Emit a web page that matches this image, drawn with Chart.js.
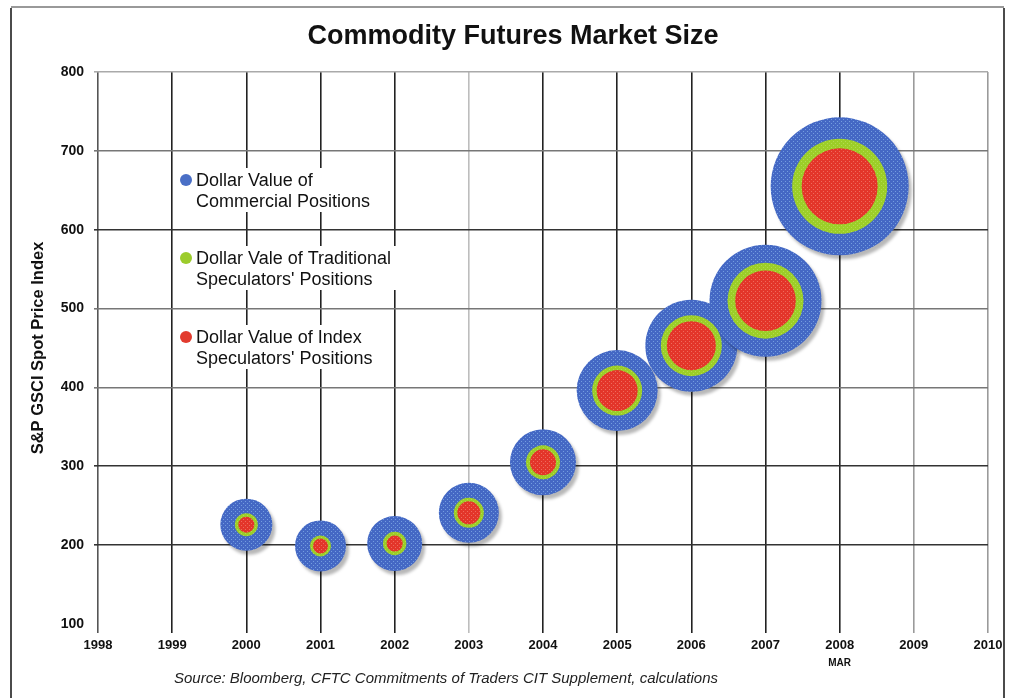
<!DOCTYPE html>
<html>
<head>
<meta charset="utf-8">
<title>Commodity Futures Market Size</title>
<script src="https://cdn.jsdelivr.net/npm/chart.js@4.4.1/dist/chart.umd.min.js"></script>
<style>
  html, body { margin: 0; padding: 0; background: #fff; }
  #wrap { width: 1012px; height: 698px; position: relative; }
</style>
</head>
<body>
<div id="wrap"><canvas id="chart" width="1012" height="698"></canvas></div>
<script>
// -------- DATA --------
const years = [2000, 2001, 2002, 2003, 2004, 2005, 2006, 2007, 2008];
const gsciIndex = [226, 199, 202, 241, 305, 396, 453, 510, 655];
// bubble radii (relative dollar value of positions)
const commercialSize = [26, 25.5, 27.5, 30, 33, 40.5, 46, 56, 69];
const traditionalSize = [11.5, 10.5, 11.7, 15, 17, 25, 30.5, 38, 47.5];
const indexSize = [8, 7.5, 8, 11.5, 13, 20.5, 24.5, 30.3, 38];

const xTicks = [1998, 1999, 2000, 2001, 2002, 2003, 2004, 2005, 2006, 2007, 2008, 2009, 2010];
const yTicks = [100, 200, 300, 400, 500, 600, 700, 800];

const legendItems = [
    { color: '#4a6fc6', lines: ['Dollar Value of', 'Commercial Positions'], y: 180 },
    { color: '#9ccc2c', lines: ['Dollar Vale of Traditional', "Speculators' Positions"], y: 258 },
    { color: '#e23b2e', lines: ['Dollar Value of Index', "Speculators' Positions"], y: 337 }
];

const FONT = '"Liberation Sans", Arial, sans-serif';

// halftone-ish pattern for the bubbles
function makePattern(base, dot) {
    const c = document.createElement('canvas');
    c.width = 4; c.height = 4;
    const g = c.getContext('2d');
    g.fillStyle = base;
    g.fillRect(0, 0, 4, 4);
    g.fillStyle = dot;
    g.fillRect(1, 1, 1, 1);
    g.fillRect(3, 3, 1, 1);
    return g.createPattern(c, 'repeat');
}

function toPoints(sizes) {
    return years.map((y, i) => ({ x: y, y: gsciIndex[i], r: sizes[i] }));
}

const ctx = document.getElementById('chart').getContext('2d');

const blueFill = makePattern('#4468c4', '#739ddf');
const greenFill = makePattern('#9cce28', '#b4dc52');
const redFill = makePattern('#e3352a', '#ef6a5c');

// -------- extra drawing: frame, title, legend, source --------
const decorPlugin = {
    id: 'decor',
    beforeDraw(chart) {
        const c = chart.ctx;
        c.save();
        c.fillStyle = '#fff';
        c.fillRect(0, 0, chart.width, chart.height);
        c.strokeStyle = '#999';
        c.lineWidth = 2;
        c.beginPath();
        c.moveTo(11, 7); c.lineTo(1004, 7);
        c.stroke();
        c.strokeStyle = '#111';
        c.lineWidth = 1.5;
        c.beginPath();
        c.moveTo(11, 8); c.lineTo(11, 698);
        c.moveTo(1004, 8); c.lineTo(1004, 698);
        c.stroke();
        c.restore();
    },
    beforeDatasetDraw(chart, args) {
        if (args.index === 2) {
            chart.ctx.shadowColor = 'rgba(0,0,0,0.28)';
            chart.ctx.shadowOffsetX = 3;
            chart.ctx.shadowOffsetY = 4;
            chart.ctx.shadowBlur = 3;
        }
    },
    afterDatasetDraw(chart, args) {
        chart.ctx.shadowColor = 'rgba(0,0,0,0)';
        chart.ctx.shadowOffsetX = 0;
        chart.ctx.shadowOffsetY = 0;
        chart.ctx.shadowBlur = 0;
    },
    afterDraw(chart) {
        const c = chart.ctx;
        const xs = chart.scales.x;
        c.save();
        // title
        c.fillStyle = '#111';
        c.font = 'bold 27px ' + FONT;
        c.textAlign = 'center';
        c.textBaseline = 'middle';
        c.fillText('Commodity Futures Market Size', 513, 37);

        // MAR under 2008
        c.font = 'bold 10px ' + FONT;
        c.fillText('MAR', xs.getPixelForValue(2008), 663);

        // source
        c.font = 'italic 15px ' + FONT;
        c.fillStyle = '#222';
        c.fillText('Source: Bloomberg, CFTC Commitments of Traders CIT Supplement, calculations', 446, 679);

        // legend
        c.textAlign = 'left';
        c.font = '18px ' + FONT;
        legendItems.forEach(item => {
            let w = 0;
            item.lines.forEach(l => { w = Math.max(w, c.measureText(l).width); });
            c.fillStyle = '#fff';
            c.fillRect(178, item.y - 12, w + 24, 44);
            c.fillStyle = item.color;
            c.beginPath();
            c.arc(186, item.y, 6, 0, Math.PI * 2);
            c.fill();
            c.fillStyle = '#111';
            item.lines.forEach((l, i) => c.fillText(l, 196, item.y + 1 + i * 21));
        });
        c.restore();
    }
};

new Chart(ctx, {
    type: 'bubble',
    data: {
        datasets: [
            { label: "Dollar Value of Index Speculators' Positions", data: toPoints(indexSize), backgroundColor: redFill, borderWidth: 0 },
            { label: "Dollar Vale of Traditional Speculators' Positions", data: toPoints(traditionalSize), backgroundColor: greenFill, borderWidth: 0 },
            { label: 'Dollar Value of Commercial Positions', data: toPoints(commercialSize), backgroundColor: blueFill, borderWidth: 0 }
        ]
    },
    options: {
        responsive: false,
        animation: false,
        events: [],
        layout: { autoPadding: false, padding: { left: 26, right: 24, top: 72, bottom: 34 } },
        plugins: {
            legend: { display: false },
            title: { display: false },
            tooltip: { enabled: false }
        },
        scales: {
            x: {
                type: 'linear',
                min: 1998,
                max: 2010,
                afterBuildTicks: s => { s.ticks = xTicks.map(v => ({ value: v })); },
                afterFit: s => { s.height = 40; },
                border: { display: false },
                grid: {
                    drawTicks: true,
                    tickLength: 9,
                    lineWidth: 1.6,
                    color: c => {
                        const v = c.tick && c.tick.value;
                        if (v === 2003) return '#bdbdbd';
                        if (v === 2009 || v === 2010) return '#9a9a9a';
                        if (v === 1998) return '#555';
                        return '#222';
                    }
                },
                ticks: {
                    padding: 5,
                    color: '#111',
                    font: { family: FONT, size: 13, weight: 'bold' },
                    callback: v => String(v)
                }
            },
            y: {
                min: 100,
                max: 800,
                afterBuildTicks: s => { s.ticks = yTicks.map(v => ({ value: v })); },
                afterFit: s => { s.width = 72; },
                border: { display: false },
                grid: {
                    drawTicks: true,
                    tickLength: 4,
                    lineWidth: 1.6,
                    color: c => {
                        const v = c.tick && c.tick.value;
                        if (v === 100) return 'rgba(0,0,0,0)';
                        if (v === 800) return '#aaa';
                        if (v === 700 || v === 500 || v === 400) return '#777';
                        return '#333';
                    }
                },
                ticks: {
                    padding: 10,
                    color: '#111',
                    font: { family: FONT, size: 14, weight: 'bold' }
                },
                title: {
                    display: true,
                    text: 'S&P GSCI Spot Price Index',
                    color: '#111',
                    font: { family: FONT, size: 16.5, weight: 'bold' },
                    padding: { top: 3, bottom: 4 }
                }
            }
        }
    },
    plugins: [decorPlugin]
});
</script>
</body>
</html>
